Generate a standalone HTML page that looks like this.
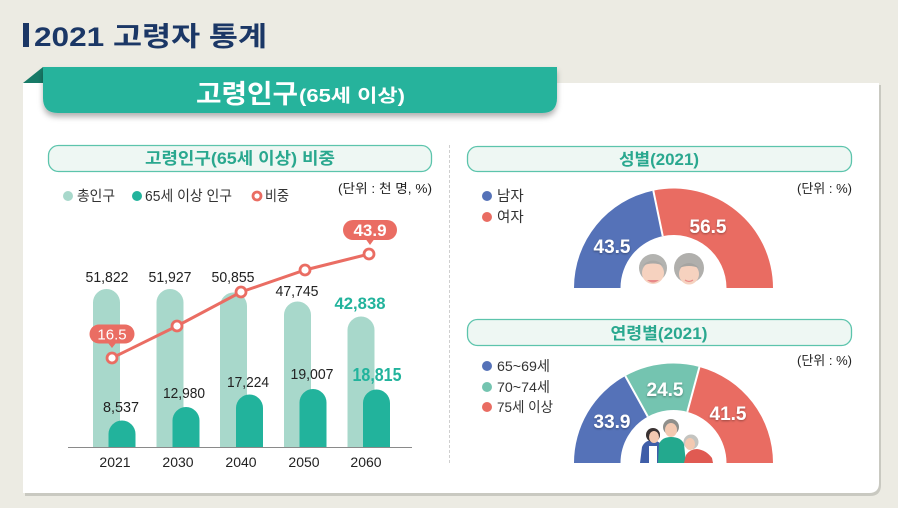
<!DOCTYPE html>
<html><head><meta charset="utf-8"><style>
html,body{margin:0;padding:0;background:#ecebe3;}
svg{display:block;}
text{font-family:"Liberation Sans","Noto Sans CJK KR",sans-serif;}
</style></head><body>
<svg width="898" height="508" viewBox="0 0 898 508" xmlns="http://www.w3.org/2000/svg">
<defs>
<filter id="sh" x="-10%" y="-30%" width="120%" height="180%"><feDropShadow dx="0" dy="4" stdDeviation="3" flood-color="#000" flood-opacity="0.3"/></filter>
<filter id="ts" x="-20%" y="-20%" width="140%" height="140%"><feDropShadow dx="0" dy="1" stdDeviation="1" flood-color="#000" flood-opacity="0.35"/></filter>
</defs>
<rect width="898" height="508" fill="#ecebe3"/>
<!-- title -->
<rect x="23" y="23" width="6" height="24" fill="#1b3766"/>
<text x="34" y="46" font-size="27" font-weight="bold" fill="#1b3766" textLength="233" lengthAdjust="spacingAndGlyphs">2021 고령자 통계</text>
<!-- card -->
<path d="M25 85 H881 V485 Q881 496 870 496 H25 Z" fill="#c9c9c1"/>
<path d="M23 83 H879 V483 Q879 493 869 493 H23 Z" fill="#ffffff"/>
<!-- banner -->
<polygon points="23,83 43,67 43,83" fill="#177a67"/>
<path d="M43 67 H557 V98 Q557 113 542 113 H58 Q43 113 43 98 Z" fill="#25b39c" filter="url(#sh)"/>
<text x="196" y="103" font-size="26" font-weight="bold" fill="#fff" textLength="102" lengthAdjust="spacingAndGlyphs">고령인구</text>
<text x="299" y="102" font-size="18" font-weight="bold" fill="#fff" textLength="106" lengthAdjust="spacingAndGlyphs">(65세 이상)</text>

<!-- left pill -->
<rect x="48.5" y="145.5" width="383" height="26" rx="10" fill="#eef7f3" stroke="#5cc4ac" stroke-width="1.3"/>
<text x="145" y="164" font-size="16.5" font-weight="bold" fill="#2aa88f" textLength="190" lengthAdjust="spacingAndGlyphs">고령인구(65세 이상) 비중</text>
<!-- legend -->
<circle cx="68" cy="196" r="5" fill="#a8d8cb"/>
<text x="77" y="201" font-size="14.5" fill="#333" textLength="38" lengthAdjust="spacingAndGlyphs">총인구</text>
<circle cx="137" cy="196" r="5" fill="#22b39c"/>
<text x="145" y="201" font-size="14.5" fill="#333" textLength="87" lengthAdjust="spacingAndGlyphs">65세 이상 인구</text>
<circle cx="257" cy="196" r="4" fill="#fff" stroke="#ea6d63" stroke-width="2.8"/>
<text x="265" y="201" font-size="14.5" fill="#333" textLength="24" lengthAdjust="spacingAndGlyphs">비중</text>
<text x="338" y="193" font-size="13" fill="#222" textLength="94" lengthAdjust="spacingAndGlyphs">(단위 : 천 명, %)</text>

<!-- light bars -->
<g fill="#a8d8cb">
<path d="M93 447 V302.5 A13.5 13.5 0 0 1 120 302.5 V447 Z"/>
<path d="M156.5 447 V302.5 A13.5 13.5 0 0 1 183.5 302.5 V447 Z"/>
<path d="M220 447 V306 A13.5 13.5 0 0 1 247 306 V447 Z"/>
<path d="M284 447 V315 A13.5 13.5 0 0 1 311 315 V447 Z"/>
<path d="M347.5 447 V330 A13.5 13.5 0 0 1 374.5 330 V447 Z"/>
</g>
<!-- dark bars -->
<g fill="#22b39c">
<path d="M108.5 447 V434 A13.5 13.5 0 0 1 135.5 434 V447 Z"/>
<path d="M172.5 447 V420.5 A13.5 13.5 0 0 1 199.5 420.5 V447 Z"/>
<path d="M236 447 V408 A13.5 13.5 0 0 1 263 408 V447 Z"/>
<path d="M299.5 447 V402.5 A13.5 13.5 0 0 1 326.5 402.5 V447 Z"/>
<path d="M363 447 V403 A13.5 13.5 0 0 1 390 403 V447 Z"/>
</g>
<line x1="68" y1="447.5" x2="412" y2="447.5" stroke="#8a8a8a" stroke-width="1"/>
<!-- total labels -->
<g font-size="15" fill="#222" text-anchor="middle">
<text x="107" y="282" textLength="43" lengthAdjust="spacingAndGlyphs">51,822</text>
<text x="170" y="282" textLength="43" lengthAdjust="spacingAndGlyphs">51,927</text>
<text x="233" y="282" textLength="43" lengthAdjust="spacingAndGlyphs">50,855</text>
<text x="297" y="296" textLength="43" lengthAdjust="spacingAndGlyphs">47,745</text>
<text x="121" y="412" textLength="36" lengthAdjust="spacingAndGlyphs">8,537</text>
<text x="184" y="398" textLength="42" lengthAdjust="spacingAndGlyphs">12,980</text>
<text x="248" y="387" textLength="42" lengthAdjust="spacingAndGlyphs">17,224</text>
<text x="312" y="379" textLength="43" lengthAdjust="spacingAndGlyphs">19,007</text>
</g>
<text x="360" y="309" font-size="17" font-weight="bold" fill="#22b39c" text-anchor="middle" textLength="51" lengthAdjust="spacingAndGlyphs">42,838</text>
<text x="377" y="381" font-size="18" font-weight="bold" fill="#22b39c" text-anchor="middle" textLength="49" lengthAdjust="spacingAndGlyphs">18,815</text>
<!-- years -->
<g font-size="14" fill="#222" text-anchor="middle">
<text x="115" y="467">2021</text>
<text x="178" y="467">2030</text>
<text x="241" y="467">2040</text>
<text x="304" y="467">2050</text>
<text x="366" y="467">2060</text>
</g>
<!-- line -->
<polyline points="112,358 177,326 241,292 305,270 369,254" fill="none" stroke="#ea6d63" stroke-width="3"/>
<g fill="#fff" stroke="#ea6d63" stroke-width="2.8">
<circle cx="112" cy="358" r="5"/>
<circle cx="177" cy="326" r="5"/>
<circle cx="241" cy="292" r="5"/>
<circle cx="305" cy="270" r="5"/>
<circle cx="369" cy="254" r="5"/>
</g>
<!-- callouts -->
<rect x="89.5" y="324.5" width="45" height="19" rx="9.5" fill="#ea6d63"/>
<polygon points="108,343 116,343 112,348" fill="#ea6d63"/>
<text x="112" y="339.5" font-size="15" fill="#fff" text-anchor="middle">16.5</text>
<rect x="343" y="220" width="54" height="20" rx="10" fill="#ea6d63"/>
<polygon points="366,239.5 374,239.5 370,245" fill="#ea6d63"/>
<text x="370" y="236" font-size="17" font-weight="bold" fill="#fff" text-anchor="middle">43.9</text>

<!-- separator -->
<line x1="449.5" y1="145" x2="449.5" y2="463" stroke="#cfcfcf" stroke-width="1" stroke-dasharray="3,2"/>

<!-- sex pill -->
<rect x="467.5" y="146.5" width="384" height="25" rx="10" fill="#eef7f3" stroke="#5cc4ac" stroke-width="1.3"/>
<text x="659" y="165" font-size="16.5" font-weight="bold" fill="#2aa88f" text-anchor="middle" textLength="80" lengthAdjust="spacingAndGlyphs">성별(2021)</text>
<circle cx="487" cy="196" r="5" fill="#5572b8"/>
<text x="497" y="201" font-size="14.5" fill="#333">남자</text>
<circle cx="487" cy="217" r="5" fill="#e96c62"/>
<text x="497" y="222" font-size="14.5" fill="#333">여자</text>
<text x="852" y="193" font-size="13" fill="#222" text-anchor="end">(단위 : %)</text>
<!-- sex donut -->
<path d="M574 288 A99.5 99.5 0 0 1 653.3 190.6 L662.75 236.1 A53 53 0 0 0 620.5 288 Z" fill="#5572b8"/>
<path d="M653.3 190.6 A99.5 99.5 0 0 1 773 288 L726.5 288 A53 53 0 0 0 662.75 236.1 Z" fill="#e96c62"/>
<line x1="653.3" y1="190.6" x2="662.75" y2="236.1" stroke="#fff" stroke-width="2"/>
<text x="612" y="253" font-size="19" font-weight="bold" fill="#fff" text-anchor="middle" filter="url(#ts)">43.5</text>
<text x="708" y="233" font-size="19" font-weight="bold" fill="#fff" text-anchor="middle" filter="url(#ts)">56.5</text>
<!-- faces -->
<circle cx="653" cy="268" r="14" fill="#b3b3b0"/>
<ellipse cx="653" cy="273" rx="11" ry="11" fill="#f6d2bf"/>
<path d="M642 266 Q653 255 664 266 Q653 261 642 266 Z" fill="#a9a9a6"/>
<path d="M647 280 Q653 285 659 280" fill="#e88a8a"/>
<circle cx="689" cy="268" r="15" fill="#b0afac"/>
<ellipse cx="689" cy="274" rx="10" ry="10.5" fill="#f6d2bf"/>
<path d="M679 268 Q689 258 699 268 Q689 264 679 268 Z" fill="#a5a4a1"/>
<path d="M685 280 Q689 283 693 280" fill="none" stroke="#e88a8a" stroke-width="1.2"/>

<!-- age pill -->
<rect x="467.5" y="319.5" width="384" height="26" rx="10" fill="#eef7f3" stroke="#5cc4ac" stroke-width="1.3"/>
<text x="659" y="339" font-size="16.5" font-weight="bold" fill="#2aa88f" text-anchor="middle" textLength="97" lengthAdjust="spacingAndGlyphs">연령별(2021)</text>
<circle cx="487" cy="366" r="5" fill="#5572b8"/>
<text x="497" y="371" font-size="14" fill="#333" textLength="53" lengthAdjust="spacingAndGlyphs">65~69세</text>
<circle cx="487" cy="387" r="5" fill="#74c4b0"/>
<text x="497" y="392" font-size="14" fill="#333" textLength="53" lengthAdjust="spacingAndGlyphs">70~74세</text>
<circle cx="487" cy="407" r="5" fill="#e96c62"/>
<text x="497" y="412" font-size="14" fill="#333" textLength="56" lengthAdjust="spacingAndGlyphs">75세 이상</text>
<text x="852" y="365" font-size="13" fill="#222" text-anchor="end">(단위 : %)</text>
<!-- age donut -->
<path d="M574 463 A99.5 99.5 0 0 1 625.3 375.96 L647.82 416.64 A53 53 0 0 0 620.5 463 Z" fill="#5572b8"/>
<path d="M625.3 375.96 A99.5 99.5 0 0 1 699.45 366.94 L687.32 411.83 A53 53 0 0 0 647.82 416.64 Z" fill="#74c4b0"/>
<path d="M699.45 366.94 A99.5 99.5 0 0 1 773 463 L726.5 463 A53 53 0 0 0 687.32 411.83 Z" fill="#e96c62"/>
<line x1="625.3" y1="375.96" x2="647.82" y2="416.64" stroke="#fff" stroke-width="2"/>
<line x1="699.45" y1="366.94" x2="687.32" y2="411.83" stroke="#fff" stroke-width="2"/>
<text x="612" y="428" font-size="19" font-weight="bold" fill="#fff" text-anchor="middle" filter="url(#ts)">33.9</text>
<text x="665" y="396" font-size="19" font-weight="bold" fill="#fff" text-anchor="middle" filter="url(#ts)">24.5</text>
<text x="728" y="420" font-size="19" font-weight="bold" fill="#fff" text-anchor="middle" filter="url(#ts)">41.5</text>
<!-- family -->
<path d="M640 463 L642 447 Q645 440 653 440 Q660 441 662 447 L662 463 Z" fill="#3f5ea8"/>
<rect x="649" y="446" width="8" height="17" fill="#ffffff"/>
<circle cx="653" cy="435" r="7" fill="#3a3232"/>
<ellipse cx="654" cy="437" rx="5" ry="6" fill="#f3c9b1"/>
<path d="M658 463 L659 444 Q662 437 671 437 Q681 437 684 444 L686 463 Z" fill="#23a98e"/>
<circle cx="671" cy="427" r="8" fill="#8f8f8b"/>
<ellipse cx="671" cy="430" rx="6" ry="7" fill="#f3c9b1"/>
<path d="M684 463 L686 455 Q690 449 697 449 Q706 450 712 458 L713 463 Z" fill="#e05a52"/>
<circle cx="691" cy="442" r="7.5" fill="#c4c4c0"/>
<ellipse cx="690" cy="444" rx="5" ry="6" fill="#f3c9b1"/>
</svg>
</body></html>
